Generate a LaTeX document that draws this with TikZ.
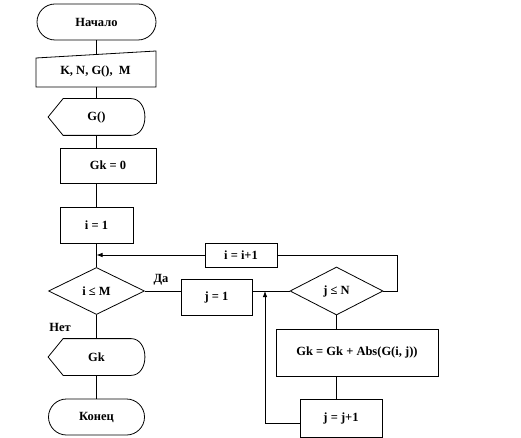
\documentclass[tikz,border=0pt]{standalone}
\usepackage{fontspec}
\setmainfont{Liberation Serif}
\usetikzlibrary{shapes.geometric,arrows.meta}
\newcommand\dispshape[1]{%
  \draw (#1.west) -- ([xshift=15pt]#1.north west) -- ([xshift=-14pt]#1.north east)
    .. controls ([xshift=4.7pt]#1.north east) and ([xshift=4.7pt]#1.south east) ..
    ([xshift=-14pt]#1.south east) -- ([xshift=15pt]#1.south west) -- cycle;}
\begin{document}
\begin{tikzpicture}[x=1pt,y=-1pt, line width=0.8pt,
  every node/.style={font=\fontsize{12.5}{14}\selectfont\bfseries, inner sep=0pt},
  box/.style={draw, rectangle},
  term/.style={draw, rectangle, rounded corners=18pt, minimum height=36pt},
  dec/.style={draw, diamond},
  arr/.style={-{Latex[length=6pt,width=4.5pt]}}]
\useasboundingbox (0,0) rectangle (521,438);

\node[term, minimum width=119pt] (start) at (96.5,22) {Начало};
\coordinate (kintop) at (96.5,54.5);
\coordinate (kinbot) at (96.5,87);
\draw (36,58) -- (156,51) -- (156,87) -- (36,87) -- cycle;
\node (kin) at (95.5,71) {K, N, G(),\ \ M};
\node[minimum width=96pt, minimum height=36pt] (gd) at (96.5,117) {G()};
\dispshape{gd}
\node[box, minimum width=96pt, minimum height=35pt] (gk0) at (108,165.5) {Gk = 0};
\node[box, minimum width=73pt, minimum height=36pt] (i1) at (96.5,225) {i = 1};
\node[dec, minimum width=96pt, minimum height=47pt] (iM) at (96.5,291) {i ≤ M};
\node (da) at (161,280) {Да};
\node (net) at (60,327) {Нет};
\node[minimum width=96pt, minimum height=36pt] (gkd) at (96.5,357) {Gk};
\dispshape{gkd}
\node[term, minimum width=96pt] (end) at (96.5,417) {Конец};
\node[box, minimum width=72pt, minimum height=24pt] (inc) at (241,255) {i = i+1};
\node[box, minimum width=71pt, minimum height=36pt] (j1) at (216.5,297) {j = 1};
\node[dec, minimum width=93pt, minimum height=48pt] (jN) at (336.5,291) {j ≤ N};
\node[box, minimum width=162pt, minimum height=47pt] (gkb) at (357,352.5) {Gk = Gk + Abs(G(i, j))};
\node[box, minimum width=82pt, minimum height=38pt] (jj) at (341,418) {j = j+1};
\coordinate (m) at (265,291);

\draw (start.south) -- (kintop);
\draw (kinbot) -- (gd.north);
\draw (gd.south) -- (gd.south |- gk0.north);
\draw (i1.north |- gk0.south) -- (i1.north);
\draw (i1.south) -- (iM.north);
\draw[arr] (inc.west) -- (iM.north |- inc.west);
\draw (iM.east) -- (j1.west |- iM.east);
\draw (j1.east |- iM.east) -- (jN.west);
\draw (jN.east) -- ++(14,0) |- (inc.east);
\draw (iM.south) -- (gkd.north);
\draw (gkd.south) -- (end.north);
\draw (jN.south) -- (jN.south |- gkb.north);
\draw (jN.south |- gkb.south) -- (jN.south |- jj.north);
\draw[arr] ([yshift=-5pt]jj.west) -| (m);
\end{tikzpicture}
\end{document}
